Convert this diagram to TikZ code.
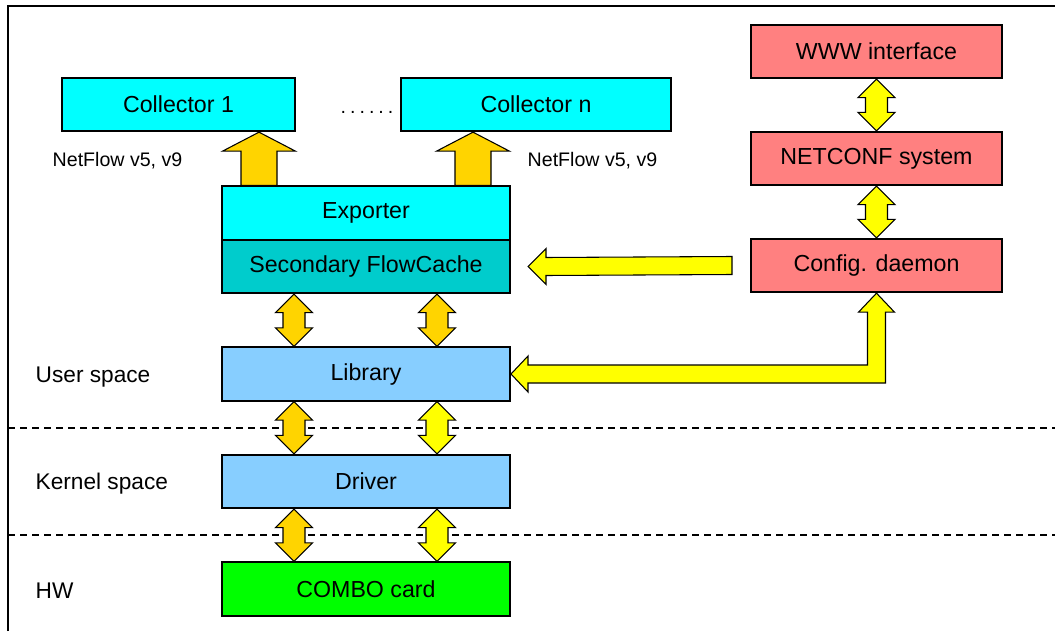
\documentclass[tikz,border=0pt]{standalone}
\usepackage{fontspec}
\setmainfont{Liberation Sans}
\usetikzlibrary{calc}

\definecolor{cyanbox}{HTML}{00FFFF}
\definecolor{tealbox}{HTML}{00CCCC}
\definecolor{bluebox}{HTML}{87CEFF}
\definecolor{greenbox}{HTML}{00FF00}
\definecolor{pinkbox}{HTML}{FF8080}
\definecolor{goldarrow}{HTML}{FFD400}
\definecolor{yellowarrow}{HTML}{FFFF00}

\tikzset{
  box/.style={draw=black, line width=1.5pt, inner sep=0pt, minimum height=40pt, font=\fontsize{17.4}{20}\selectfont},
  fat/.style={draw=black, line width=0.8pt, line join=miter},
  lbl/.style={anchor=west, font=\fontsize{17}{20}\selectfont},
  nf/.style={anchor=west, font=\fontsize{14.7}{17}\selectfont},
}

%double block arrow, #2 top end, #3 bottom end
\newcommand{\vdblarrow}[3][goldarrow]{%
  \draw[fat, fill=#1] (#2) -- ($(#2)+(18.5,18.5)$) -- ($(#2)+(11,18.5)$) -- ($(#3)+(11,-18.5)$) -- ($(#3)+(18.5,-18.5)$) -- (#3) -- ($(#3)+(-18.5,-18.5)$) -- ($(#3)+(-11,-18.5)$) -- ($(#2)+(-11,18.5)$) -- ($(#2)+(-18.5,18.5)$) -- cycle;}
%single block arrow upwards, #1 bottom, #2 tip
\newcommand{\vuparrow}[2]{%
  \draw[fat, fill=goldarrow] (#2) -- ($(#2)+(36.5,19)$) -- ($(#2)+(18,19)$) -- ($(#1)+(18,0)$) -- ($(#1)+(-18,0)$) -- ($(#2)+(-18,19)$) -- ($(#2)+(-36.5,19)$) -- cycle;}

\begin{document}
\begin{tikzpicture}[x=0.75pt,y=-0.75pt,line cap=butt]
\useasboundingbox (0,0) rectangle (1055,631);
%frame
\draw[line width=0.8pt] (8,631) -- (8,6) -- (1055,6);
%layers
\draw[line width=0.8pt, dash pattern=on 5pt off 4pt] (8,428) -- (1055,428);
\draw[line width=0.8pt, dash pattern=on 5pt off 4pt] (8,535) -- (1055,535);
\node[lbl] (user) at (31,377) {User space};
\node[lbl] (kernel) at (31,484) {Kernel space};
\node[lbl] (hw) at (31,591) {HW};
%collectors
\node[box, fill=cyanbox, minimum width=174.75pt] (col1) at (178.5,104.5) {Collector 1};
\node[box, fill=cyanbox, minimum width=202.5pt] (coln) at (536,104.5) {Collector n};
\node[font=\fontsize{14.7}{17}\selectfont] (dots) at (367,112) {.\hspace{3pt}.\hspace{3pt}.\hspace{3pt}.\hspace{3pt}.\hspace{3pt}.};
\node[nf] (nf1) at (48,161) {NetFlow v5, v9};
\node[nf] (nf2) at (523,161) {NetFlow v5, v9};
%config side
\node[box, fill=pinkbox, minimum width=188.25pt] (www) at (876.5,51.5) {WWW interface};
\node[box, fill=pinkbox, minimum width=188.25pt] (netconf) at (876.5,158.5) {NETCONF system};
\node[box, fill=pinkbox, minimum width=188.25pt] (config) at (876.5,265.5) {Config. daemon};
%stack
\node[box, fill=cyanbox, minimum width=216pt] (exporter) at (366,213) {Exporter};
\node[box, fill=tealbox, minimum width=216pt] (cache) at (366,266.5) {Secondary FlowCache};
\node[box, fill=bluebox, minimum width=216pt] (library) at (366,374) {Library};
\node[box, fill=bluebox, minimum width=216pt] (driver) at (366,481.5) {Driver};
\node[box, fill=greenbox, minimum width=216pt] (combo) at (366,589) {COMBO card};
%arrow columns
\coordinate (xa) at (259,0);
\coordinate (xb) at (473,0);
\coordinate (xc) at (294,0);
\coordinate (xd) at (437,0);
%export arrows
\vuparrow{exporter.north -| xa}{col1.south -| xa}
\vuparrow{exporter.north -| xb}{coln.south -| xb}
%stack arrows
\vdblarrow{cache.south -| xc}{library.north -| xc}
\vdblarrow{cache.south -| xd}{library.north -| xd}
\vdblarrow{library.south -| xc}{driver.north -| xc}
\vdblarrow[yellowarrow]{library.south -| xd}{driver.north -| xd}
\vdblarrow{driver.south -| xc}{combo.north -| xc}
\vdblarrow[yellowarrow]{driver.south -| xd}{combo.north -| xd}
%config arrows
\vdblarrow[yellowarrow]{www.south}{netconf.north}
\vdblarrow[yellowarrow]{netconf.south}{config.north}
\draw[fat, fill=yellowarrow] ($(cache.east)+(17,0)$) coordinate (tip1) -- ++(18,-18) -- ++(0,9) -- ($(config.west)+(-18,-9)$) -- ++(0,18) -- ($(tip1)+(18,9)$) -- ++(0,9) -- cycle;%daemon to cache
\draw[fat, fill=yellowarrow] (config.south) coordinate (tip2) -- ++(18,19) -- ++(-9,0) -- ($(tip2 |- library.east)+(9,9)$) -- ($(library.east)+(17,9)$) -- ++(0,9) -- (library.east) -- ++(17,-18) -- ++(0,9) -- ($(tip2 |- library.east)+(-9,-9)$) -- ($(tip2)+(-9,19)$) -- ++(-9,0) -- cycle;%daemon to library
\end{tikzpicture}
\end{document}
